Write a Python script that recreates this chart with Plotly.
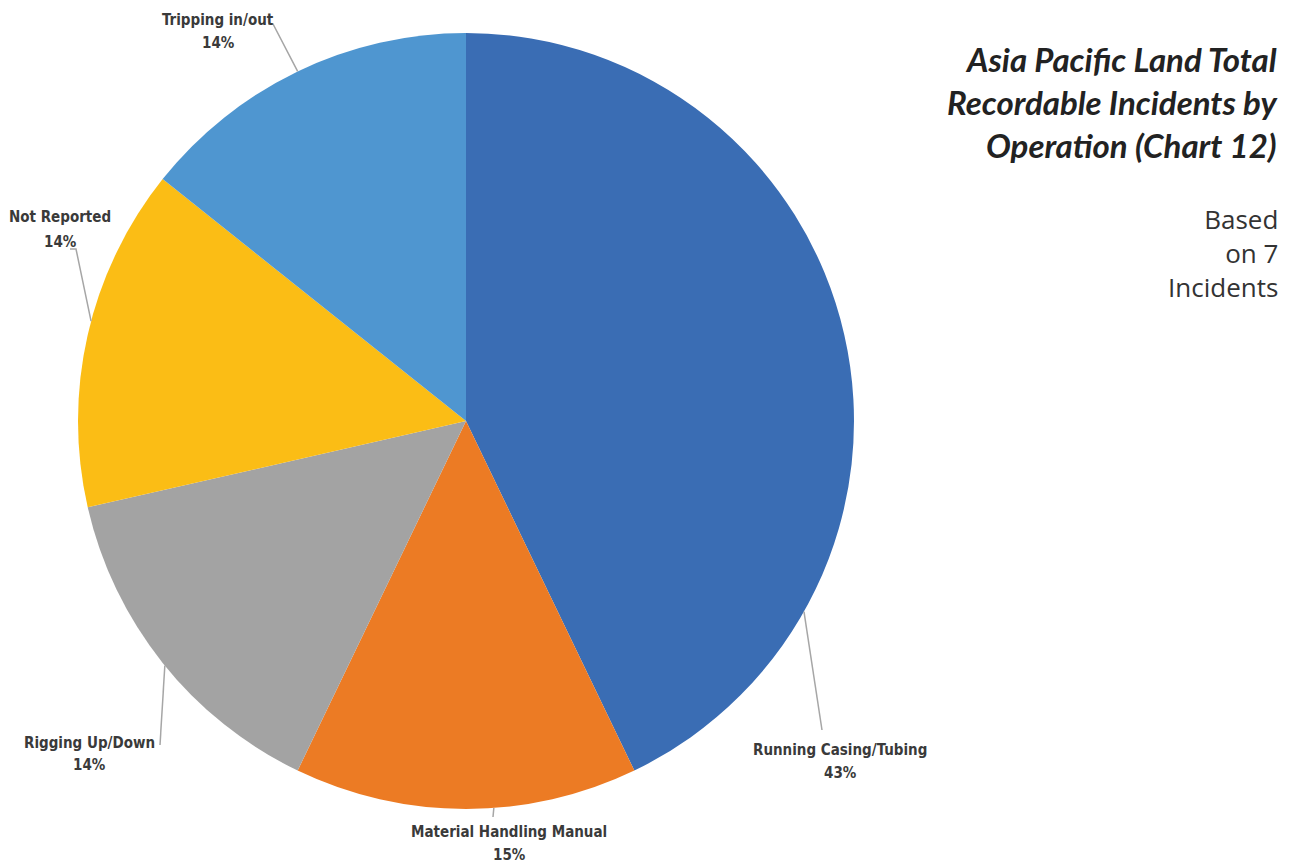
import math
import plotly.graph_objects as go

# ---- data ----
categories = ["Running Casing/Tubing", "Material Handling Manual", "Rigging Up/Down",
              "Not Reported", "Tripping in/out"]
incidents = [3, 1, 1, 1, 1]
pct_labels = ["43%", "15%", "14%", "14%", "14%"]
colors = ["#3A6DB4", "#EC7B24", "#A3A3A3", "#FBBD15", "#4F96D0"]

# ---- layout / style ----
PAGE_W, PAGE_H = 1300, 865
OFF = 8  # page body margin offset
W, H = PAGE_W - OFF, PAGE_H - OFF
cx, cy, r = 466, 421, 388
# where along each slice's arc the leader line touches (fraction of slice span)
leader_frac = [0.774, 0.42, 0.49, 0.54, 0.5]
# label centre x and the y of the name line and the percent line (page px)
label_x = [840, 509, 89, 60, 218]
name_y = [750, 832, 743, 217, 20]
pct_y = [773, 855, 765, 242, 43]
leader_path = [
    [(822, 730)],
    [(493, 817)],
    [(160, 745)],
    [(76, 249), (70, 249)],
    [(273, 24), (268, 24)],
]

def px(x):
    return (x - OFF) / W

def py(y):
    return 1 - (y - OFF) / H

fig = go.Figure(go.Pie(
    labels=categories,
    values=incidents,
    sort=False,
    direction="clockwise",
    rotation=0,
    textinfo="none",
    hoverinfo="label+percent",
    marker=dict(colors=colors, line=dict(width=0)),
    domain=dict(x=[px(cx - r), px(cx + r)], y=[py(cy + r), py(cy - r)]),
    showlegend=False,
))

label_font = dict(family="DejaVu Sans Condensed, Liberation Sans Narrow, sans-serif",
                  size=15, color="#3A3A3A", weight="bold")

total = sum(incidents)
start = 0.0
shapes = []
annotations = []
for i, v in enumerate(incidents):
    span = v / total * 360
    ang = math.radians(start + span * leader_frac[i])
    start += span
    ex = cx + r * math.sin(ang)
    ey = cy - r * math.cos(ang)
    pts = [(ex, ey)] + leader_path[i]
    path = "M " + " L ".join(f"{px(x)},{py(y)}" for x, y in pts)
    shapes.append(dict(type="path", xref="paper", yref="paper", path=path,
                       line=dict(color="#A6A6A6", width=1.5)))
    for txt, yy in ((categories[i], name_y[i]), (pct_labels[i], pct_y[i])):
        annotations.append(dict(
            x=px(label_x[i]), y=py(yy), xref="paper", yref="paper", showarrow=False,
            xanchor="center", yanchor="middle", align="center",
            text=txt, font=label_font,
        ))

annotations.append(dict(
    x=px(1280), y=py(102), xref="paper", yref="paper", showarrow=False,
    xanchor="right", yanchor="middle", align="right",
    text="<b><i>Asia Pacific Land Total<br>Recordable Incidents by<br>Operation (Chart 12)</i></b>",
    font=dict(family="Lato, sans-serif", size=33, color="#222222"),
))
annotations.append(dict(
    x=px(1280), y=py(253), xref="paper", yref="paper", showarrow=False,
    xanchor="right", yanchor="middle", align="right",
    text="Based<br>on 7<br>Incidents",
    font=dict(family="Open Sans, sans-serif", size=26, color="#333333"),
))

fig.update_layout(
    width=W, height=H,
    margin=dict(l=0, r=0, t=0, b=0),
    paper_bgcolor="white", plot_bgcolor="white",
    shapes=shapes, annotations=annotations,
)

fig.write_html("out.html")
